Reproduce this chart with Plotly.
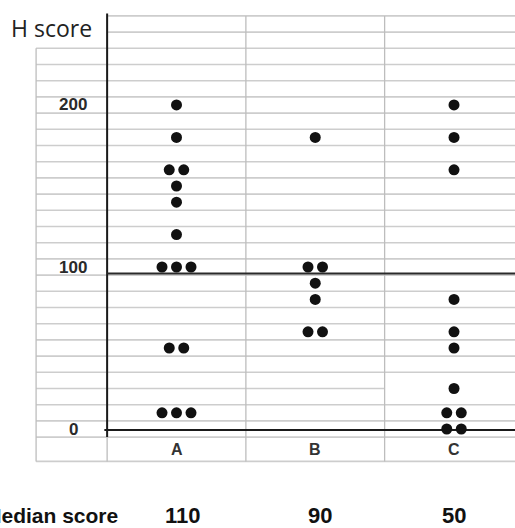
import plotly.graph_objects as go
from collections import Counter

# ---------------- data ----------------
categories = ["A", "B", "C"]
a_scores = [200, 180, 160, 160, 150, 140, 120, 100, 100, 100, 50, 50, 10, 10, 10]
b_scores = [180, 100, 100, 90, 80, 60, 60]
c_scores = [200, 180, 160, 80, 60, 50, 25, 10, 10, 0, 0]
median_labels = ["110", "90", "50"]
ytick_vals = [0, 100, 200]
ytick_text = ["0", "100", "200"]

# ---------------- geometry / style ----------------
W, H = 515, 528
X_RANGE = [-0.2721, 3.4396]
Y_RANGE = [-61.1, 264.8]
LEFT_BORDER = -0.012
DOT_GAP = 0.1045
GRID_COLOR = "#cdcdcd"
VGRID_COLOR = "#bdbdbd"
INK = "#111111"

fig = go.Figure()

series = [a_scores, b_scores, c_scores]
for ci, (cat, vals) in enumerate(zip(categories, series)):
    counts = Counter(vals)
    seen = Counter()
    xs, ys = [], []
    for v in vals:
        n = counts[v]
        i = seen[v]
        seen[v] += 1
        xs.append(ci + 1 + (i - (n - 1) / 2) * DOT_GAP)
        ys.append(v)
    fig.add_trace(go.Scatter(
        x=xs, y=ys, mode="markers", name=cat,
        marker=dict(size=11, color=INK, line=dict(width=0)),
        showlegend=False, hoverinfo="y",
    ))

shapes = []
# horizontal light grid lines (cells of the background table)
for v in range(-5, 256, 10):
    x0 = 0.5 if v >= 245 else LEFT_BORDER
    x1 = 2.5 if v == 25 else X_RANGE[1] + 0.2
    shapes.append(dict(type="line", xref="x", yref="y", x0=x0, x1=x1, y0=v, y1=v,
                       line=dict(color=GRID_COLOR, width=1.6), layer="below"))
shapes.append(dict(type="line", xref="x", yref="y", x0=LEFT_BORDER, x1=X_RANGE[1] + 0.2,
                   y0=-20, y1=-20, line=dict(color=GRID_COLOR, width=1.6), layer="below"))
# vertical light lines
shapes.append(dict(type="line", xref="x", yref="y", x0=LEFT_BORDER, x1=LEFT_BORDER,
                   y0=235, y1=-20, line=dict(color=VGRID_COLOR, width=1.3), layer="below"))
for xv in [0.5, 1.5, 2.5]:
    shapes.append(dict(type="line", xref="x", yref="y", x0=xv, x1=xv, y0=255, y1=-20,
                       line=dict(color=VGRID_COLOR, width=1.3), layer="below"))
# black axis lines
shapes.append(dict(type="line", xref="x", yref="y", x0=0.5, x1=0.5, y0=256.5, y1=-5,
                   line=dict(color="#1a1a1a", width=2), layer="below"))
shapes.append(dict(type="line", xref="x", yref="y", x0=0.48, x1=X_RANGE[1] + 0.2, y0=-0.6, y1=-0.6,
                   line=dict(color="#1a1a1a", width=2), layer="below"))
shapes.append(dict(type="line", xref="x", yref="y", x0=0.5, x1=X_RANGE[1] + 0.2, y0=96, y1=96,
                   line=dict(color="#2a2a2a", width=2), layer="below"))

annotations = []
annotations.append(dict(text="H score", xref="paper", yref="paper", x=9 / W, y=1 - 28 / H,
                        xanchor="left", yanchor="middle", showarrow=False,
                        font=dict(family="Open Sans", size=23, color="#222222")))
for v, t in zip(ytick_vals, ytick_text):
    annotations.append(dict(text="<b>%s</b>" % t, xref="paper", yref="y", x=73 / W, y=v,
                            xanchor="center", yanchor="middle", showarrow=False,
                            font=dict(family="Liberation Sans", size=17, color="#2a2a2a")))
for ci, cat in enumerate(categories):
    annotations.append(dict(text="<b>%s</b>" % cat, xref="x", yref="y", x=ci + 1, y=-12.8,
                            xanchor="center", yanchor="middle", showarrow=False,
                            font=dict(family="Liberation Sans", size=16, color="#333333")))
annotations.append(dict(text="<b>Median score</b>", xref="paper", yref="paper", x=120 / W,
                        y=1 - 515 / H, xanchor="right", yanchor="middle", showarrow=False,
                        font=dict(family="Liberation Sans", size=21, color=INK)))
median_xshift = [6, 5, 0]
for ci, m in enumerate(median_labels):
    annotations.append(dict(text="<b>%s</b>" % m, xref="x", yref="paper", x=ci + 1,
                            xshift=median_xshift[ci], y=1 - 515 / H,
                            xanchor="center", yanchor="middle", showarrow=False,
                            font=dict(family="Liberation Sans", size=22, color=INK)))

fig.update_layout(
    width=W, height=H,
    margin=dict(l=0, r=0, t=0, b=0, pad=0),
    paper_bgcolor="white", plot_bgcolor="white",
    xaxis=dict(range=X_RANGE, visible=False, fixedrange=True),
    yaxis=dict(range=Y_RANGE, visible=False, fixedrange=True),
    shapes=shapes, annotations=annotations,
    showlegend=False,
)

fig.write_html("out.html", post_script="document.body.style.margin='0';",
               config={"displayModeBar": False})
